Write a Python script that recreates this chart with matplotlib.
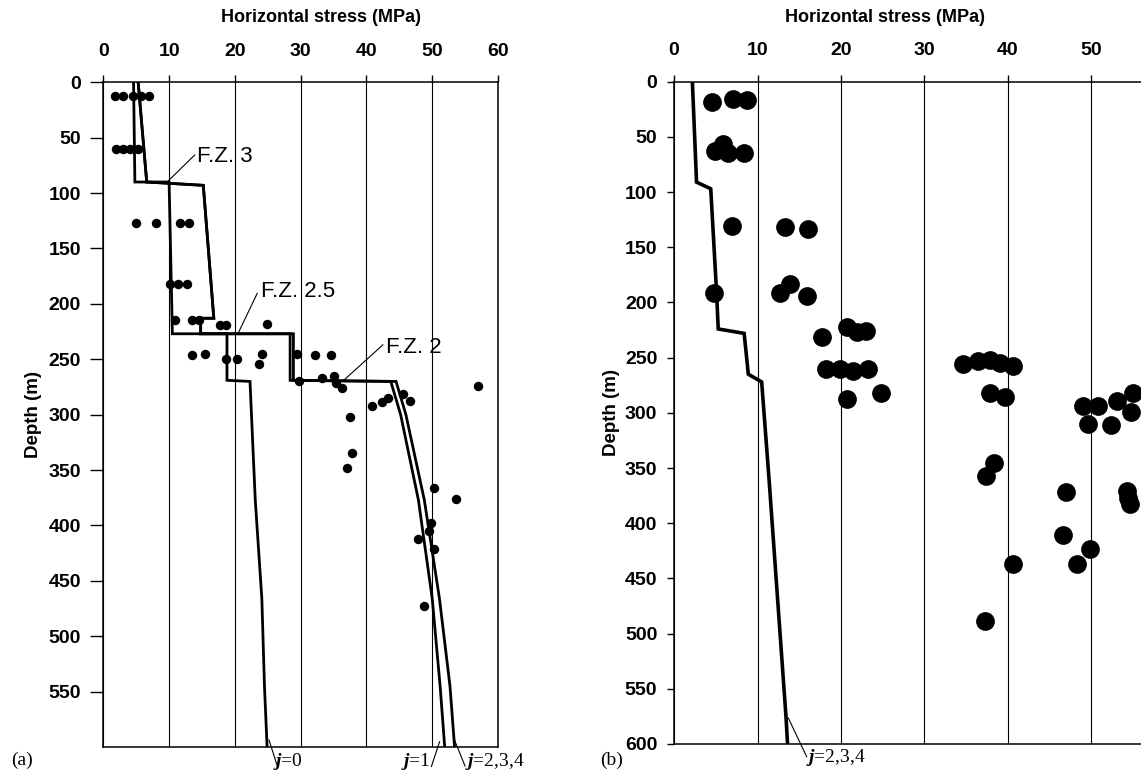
import matplotlib
matplotlib.use('Agg')
import matplotlib.pyplot as plt

plt.rcParams['font.family'] = ['Liberation Sans', 'DejaVu Sans']
plt.rcParams['font.weight'] = 'bold'
plt.rcParams['mathtext.fontset'] = 'custom'
plt.rcParams['mathtext.it'] = 'Liberation Serif:italic'
plt.rcParams['mathtext.rm'] = 'Liberation Serif'

# ---------------- data ----------------
xticks_a = [0, 10, 20, 30, 40, 50, 60]
xticks_b = [0, 10, 20, 30, 40, 50]
yticks_a = [0, 50, 100, 150, 200, 250, 300, 350, 400, 450, 500, 550]
yticks_b = [0, 50, 100, 150, 200, 250, 300, 350, 400, 450, 500, 550, 600]

# panel (a) measured stresses
a_stress = [1.8, 3.0, 4.5, 5.8, 7.0,
            2.0, 3.0, 4.0, 5.2,
            4.9, 8.0, 11.6, 13.1,
            10.2, 11.4, 12.7,
            10.9, 13.5, 14.5, 17.8, 18.6, 24.9,
            13.5, 15.5, 18.6, 20.4, 24.1, 23.6, 29.4, 32.2, 34.6,
            29.8, 33.3, 35.1, 35.4, 36.3,
            40.8, 42.3, 43.3, 45.6, 46.6, 56.9,
            37.5, 37.8, 37.1,
            50.3, 53.6, 49.8, 49.5, 47.8, 50.2, 48.7]
a_depth = [12, 12, 12, 12, 12,
           60, 60, 60, 60,
           127, 127, 127, 127,
           182, 182, 182,
           215, 215, 215, 219, 219, 218,
           246, 245, 250, 250, 245, 254, 245, 246, 246,
           270, 267, 265, 271, 276,
           292, 289, 285, 281, 288, 274,
           302, 335, 348,
           366, 376, 398, 405, 412, 421, 473]

# panel (a) model curves
j0_depth = [0, 90, 90, 227, 227, 269, 270, 377, 466, 545, 600]
j0_stress = [4.6, 4.8, 10.0, 10.5, 18.8, 18.8, 22.3, 23.1, 24.1, 24.5, 24.9]
j1_depth = [0, 90, 93, 213, 213, 227, 227, 269, 270, 300, 377, 466, 545, 600]
j1_stress = [5.3, 6.6, 15.2, 16.8, 14.8, 14.8, 28.4, 28.4, 43.7, 45.2, 47.9, 50.0, 51.2, 51.9]
j234_depth = [0, 90, 93, 213, 213, 227, 227, 269, 270, 300, 377, 466, 545, 600]
j234_stress = [5.3, 6.6, 15.2, 16.8, 14.8, 14.8, 28.9, 28.9, 44.5, 46.0, 48.8, 51.1, 52.7, 53.4]

# panel (b) measured stresses
b_stress = [4.5, 7.1, 8.8,
            5.9, 4.9, 6.5, 8.4,
            6.9, 13.3, 16.0,
            4.8, 12.7, 13.9, 15.9,
            20.7, 21.9, 23.0, 17.7,
            18.2, 19.9, 21.4, 23.2, 20.7, 24.8,
            34.6, 36.4, 37.8, 39.0, 40.6,
            37.8, 39.7,
            38.3, 37.4,
            46.9,
            49.0, 50.8, 53.0, 55.0, 54.7,
            49.6, 52.3,
            54.2, 54.4, 54.6,
            40.6, 46.6, 48.3, 49.8, 37.2]
b_depth = [18, 16, 17,
           56, 63, 65, 64.5,
           131, 132, 133,
           191, 191, 183, 194,
           222, 227, 226, 231,
           260, 260, 262, 260, 287, 282,
           256, 253, 252, 254.5, 257.5,
           282, 286,
           345, 357.5,
           372,
           294, 294, 289, 282, 299,
           310.5, 311,
           371, 377, 383,
           437, 411, 437, 423, 489]

# panel (b) model curve
b_line_depth = [0, 91, 97, 191, 208, 224, 228, 265, 272, 362, 574, 600]
b_line_stress = [2.2, 2.7, 4.4, 5.1, 5.2, 5.3, 8.4, 8.9, 10.5, 11.4, 13.4, 13.6]

# ---------------- figure ----------------
W, H = 1141, 776
fig = plt.figure(figsize=(W / 100, H / 100), dpi=100)


def box(l, t, r, b):
    return [l / W, 1 - b / H, (r - l) / W, (b - t) / H]


def px(x, y):
    return (x / W, 1 - y / H)


axa = fig.add_axes(box(103.3, 82.3, 498, 747))
axb = fig.add_axes(box(674, 81.7, 674 + 60 * 8.35, 744))

for ax, xt in ((axa, xticks_a), (axb, xticks_b)):
    ax.set_xlim(0, 60)
    ax.set_ylim(600, 0)
    ax.xaxis.tick_top()
    ax.set_xticks(xt)
    ax.grid(axis='x', color='black', lw=0.8)
    ax.set_axisbelow(True)
    for s in ax.spines.values():
        s.set_linewidth(1.1)
    ax.tick_params(axis='x', direction='out', length=5, width=1, pad=11, labelsize=14)

axa.set_yticks(yticks_a)
axb.set_yticks(yticks_b)
axa.tick_params(axis='y', direction='out', length=9.5, width=1, pad=6.5, labelsize=14)
axb.tick_params(axis='y', direction='out', length=5, width=1, pad=7, labelsize=14)

# panel (a)
axa.plot(j0_stress, j0_depth, color='black', lw=2.0, solid_joinstyle='miter')
axa.plot(j1_stress, j1_depth, color='black', lw=2.0, solid_joinstyle='miter')
axa.plot(j234_stress, j234_depth, color='black', lw=2.0, solid_joinstyle='miter')
axa.plot(a_stress, a_depth, 'o', color='black', ms=6.8, mew=0)

axa.text(14.3, 67, 'F.Z. 3', fontsize=16, fontweight='normal', ha='left', va='center')
axa.plot([9.7, 13.9], [90, 65.6], color='black', lw=0.8)
axa.text(23.9, 189, 'F.Z. 2.5', fontsize=16, fontweight='normal', ha='left', va='center')
axa.plot([20.5, 23.4], [226.5, 190.5], color='black', lw=0.8)
axa.text(42.9, 239, 'F.Z. 2', fontsize=16, fontweight='normal', ha='left', va='center')
axa.plot([36.6, 42.5], [268.7, 237], color='black', lw=0.8)

# panel (b)
axb.plot(b_line_stress, b_line_depth, color='black', lw=2.6, solid_joinstyle='miter')
axb.plot(b_stress, b_depth, 'o', color='black', ms=13.5, mew=0)

# axis titles
for cx in (321, 885):
    fig.text(*px(cx, 18), 'Horizontal stress (MPa)', fontsize=13, ha='center', va='center')
fig.text(*px(33, 414), 'Depth (m)', fontsize=13.5, rotation=90, ha='center', va='center')
fig.text(*px(611, 413), 'Depth (m)', fontsize=13.5, rotation=90, ha='center', va='center')

# bottom annotations
serif = dict(family='Liberation Serif', fontweight='normal', fontsize=14, va='center')
fig.text(*px(22, 760), '(a)', ha='center', **serif)
fig.text(*px(612, 760), '(b)', ha='center', **serif)
fig.text(*px(273, 761), r'$j$=0', ha='left', **serif)
fig.text(*px(401, 761), r'$j$=1', ha='left', **serif)
fig.text(*px(465, 761), r'$j$=2,3,4', ha='left', **serif)
fig.text(*px(806, 757), r'$j$=2,3,4', ha='left', **serif)

leaders = [((269, 740), (277, 765)), ((439.6, 741.7), (431.4, 766.5)),
           ((454.5, 740), (465, 766)), ((788.3, 718), (806.7, 756.7))]
for (x0, y0), (x1, y1) in leaders:
    fig.add_artist(plt.Line2D([x0 / W, x1 / W], [1 - y0 / H, 1 - y1 / H],
                              color='black', lw=0.8, transform=fig.transFigure))

fig.savefig('out.png', dpi=100)
